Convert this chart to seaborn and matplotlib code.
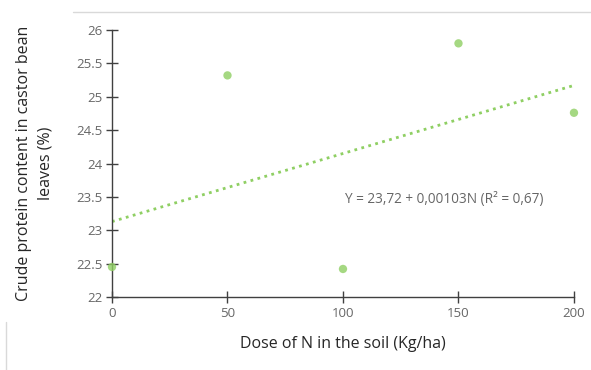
import numpy as np
import pandas as pd
import seaborn as sns
import matplotlib.pyplot as plt
from matplotlib.lines import Line2D

# Data
dose_n = [0, 50, 100, 150, 200]
crude_protein = [22.45, 25.32, 22.42, 25.80, 24.76]
x_ticks = [0, 50, 100, 150, 200]
y_ticks = [22, 22.5, 23, 23.5, 24, 24.5, 25, 25.5, 26]
y_ticklabels = ['22', '22.5', '23', '23.5', '24', '24.5', '25', '25.5', '26']
equation = 'Y = 23,72 + 0,00103N (R² = 0,67)'

df = pd.DataFrame({'dose': dose_n, 'protein': crude_protein})

sns.set_style('white')
plt.rcParams['font.family'] = ['Open Sans', 'DejaVu Sans']
green = '#8fcf63'

fig = plt.figure(figsize=(5.91, 3.70), dpi=100)
ax = fig.add_axes([0.1895, 0.1973, 0.7817, 0.7216])

sns.regplot(data=df, x='dose', y='protein', ax=ax, ci=None,
            scatter_kws=dict(s=36, color=green, edgecolor='none', zorder=3, clip_on=False),
            line_kws=dict(color=green, linestyle=(0, (1, 1.6)), linewidth=2))

ax.set_xlim(0, 200)
ax.set_ylim(22, 26)
ax.set_xticks(x_ticks)
ax.set_yticks(y_ticks)
ax.set_yticklabels(y_ticklabels)

for s in ['top', 'right']:
    ax.spines[s].set_visible(False)
for s in ['left', 'bottom']:
    ax.spines[s].set_color('#404040')
    ax.spines[s].set_linewidth(1.0)

ax.tick_params(axis='both', which='major', direction='inout', length=8, width=1,
               bottom=True, left=True, color='#404040', labelsize=9.5,
               labelcolor='#666666', pad=3)

ax.set_xlabel('Dose of N in the soil (Kg/ha)', fontsize=11.5, color='#262626', labelpad=12)
ax.set_ylabel('Crude protein content in castor bean\nleaves (%)', fontsize=11.5,
              color='#262626', labelpad=16, linespacing=1.5)

ax.text(144, 23.46, equation, fontsize=9.8, color='#666666', ha='center', va='center')

# frame lines around the chart
fig.add_artist(Line2D([73 / 591, 1], [1 - 12 / 370] * 2, color='#d9d9d9', linewidth=1))
fig.add_artist(Line2D([6 / 591] * 2, [0, 1 - 322 / 370], color='#d9d9d9', linewidth=1))

fig.savefig('out.png', dpi=100)
